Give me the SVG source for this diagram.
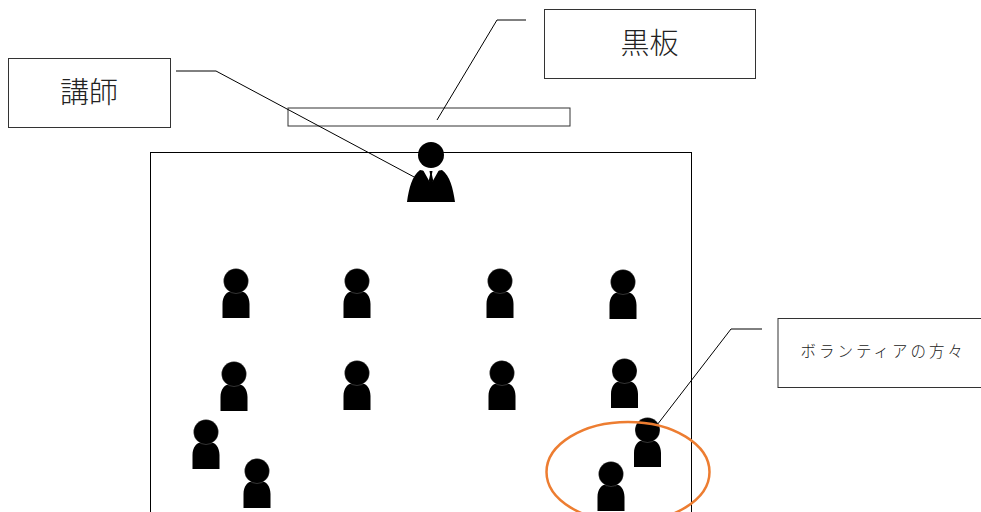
<svg xmlns="http://www.w3.org/2000/svg" width="981" height="512" viewBox="0 0 981 512">
<style>
.box{fill:#fff;stroke:#333;stroke-width:1}
.room{fill:none;stroke:#000;stroke-width:1}
.conn{fill:none;stroke:#000;stroke-width:1}
.big{font-family:"Noto Sans CJK JP","Noto Sans",sans-serif;font-size:29px;fill:#222;text-anchor:middle;font-weight:300}
.small{font-family:"Noto Sans CJK JP","Noto Sans",sans-serif;font-size:15.500px;letter-spacing:3px;fill:#222;font-weight:300}
</style>
<defs>
<g id="person">
<path d="M-13.500 37V23C-13.500 15-9 10.500-5 10.500Q0 12.500 5 10.500C9 10.500 13.500 15 13.500 23V37Z" fill="#000"/>
<circle cx="0" cy="0" r="12.500" fill="#000" stroke="#fff" stroke-opacity="0.4" stroke-width="0.5"/>
</g>
<filter id="soft" x="-20%" y="-20%" width="140%" height="140%"><feGaussianBlur stdDeviation="0.7"/></filter>
</defs>
<rect width="981" height="512" fill="#fff"/>
<g id="room"><rect class="room" x="150.500" y="152.500" width="541" height="380"/></g>
<g id="blackboard"><rect class="box" x="288" y="108" width="282" height="18"/></g>
<g id="connectors">
<path class="conn" d="M176 71H216L416 178"/>
<path class="conn" d="M526 20H497L437 120"/>
<path class="conn" d="M762 329H731L657 425"/>
</g>
<g id="label-blackboard"><rect class="box" x="544.500" y="9.500" width="211" height="69"/><text class="big" x="649.500" y="54">黒板</text></g>
<g id="label-teacher"><rect class="box" x="8.500" y="58.500" width="162" height="69"/><text class="big" x="89" y="103">講師</text></g>
<g id="label-volunteers"><rect class="box" x="778" y="318.500" width="210" height="69"/><text class="small" x="800.500" y="357">ボランティアの方々</text></g>
<g id="teacher">
<path d="M407 202C409 188 412 176 420 170L431 172L442 170C450 176 453 188 455 202Z" fill="#000"/>
<path d="M423 170L429.500 181.500L431 172L432.500 181.500L439 170Z" fill="#fff"/>
<path d="M429.500 171h3l-.6 3.500 1.300 6-2.200 3-2.200-3 1.300-6z" fill="#000"/>
<circle cx="431" cy="155" r="13" fill="#000"/>
</g>
<g id="student-1"><use href="#person" x="236" y="281"/></g>
<g id="student-2"><use href="#person" x="357" y="281"/></g>
<g id="student-3"><use href="#person" x="500" y="281"/></g>
<g id="student-4"><use href="#person" x="623" y="282"/></g>
<g id="student-5"><use href="#person" x="234" y="374"/></g>
<g id="student-6"><use href="#person" x="357" y="373"/></g>
<g id="student-7"><use href="#person" x="502" y="373"/></g>
<g id="student-8"><use href="#person" x="624.500" y="371"/></g>
<g id="student-9"><use href="#person" x="206" y="432"/></g>
<g id="student-10"><use href="#person" x="257" y="471"/></g>
<g id="volunteer-1"><use href="#person" x="647.500" y="430"/></g>
<g id="volunteer-2"><use href="#person" x="611" y="474" filter="url(#soft)"/></g>
<g id="highlight"><ellipse cx="628" cy="472" rx="81.500" ry="50" fill="none" stroke="#ed7d31" stroke-width="2.500"/></g>
</svg>
